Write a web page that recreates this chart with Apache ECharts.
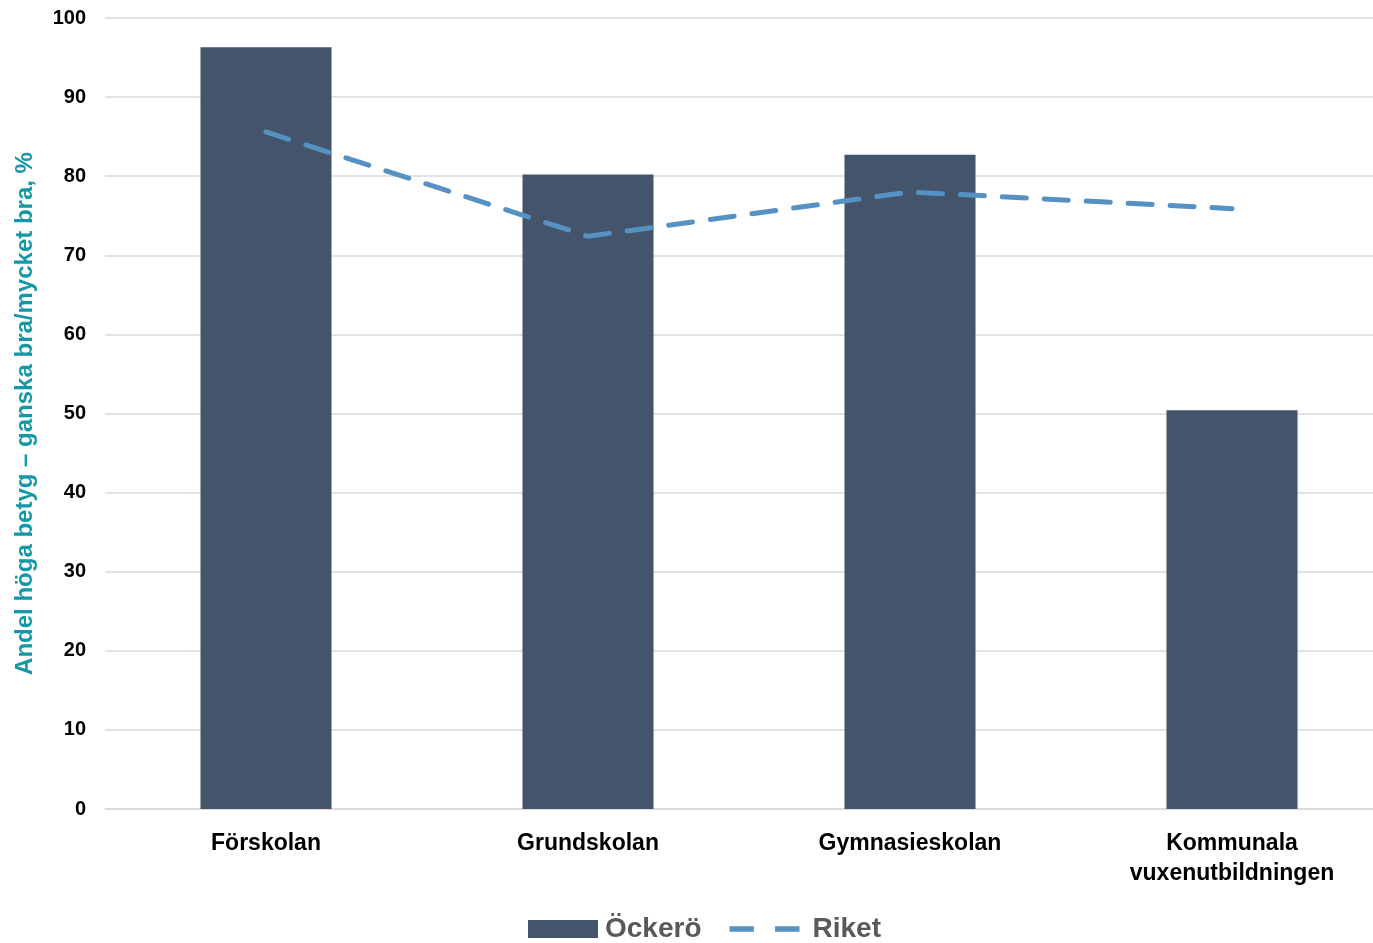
<!DOCTYPE html>
<html><head><meta charset="utf-8">
<script src="https://cdn.jsdelivr.net/npm/echarts@6/dist/echarts.min.js"></script>
<style>html,body{margin:0;padding:0;background:#fff}#c{width:1373px;height:943px}</style>
</head><body><div id="c"></div>
<script>
const categories = ['Förskolan', 'Grundskolan', 'Gymnasieskolan', 'Kommunala\nvuxenutbildningen'];
const ockero = [96.3, 80.2, 82.7, 50.4];
const riket = [85.6, 72.4, 78.0, 75.9];
const yTicks = [0, 10, 20, 30, 40, 50, 60, 70, 80, 90, 100];

const chart = echarts.init(document.getElementById('c'));
chart.setOption({
  animation: false,
  textStyle: { fontFamily: 'Liberation Sans, Arial, sans-serif' },
  grid: { left: 105, top: 18, right: -20, bottom: 134, containLabel: false, outerBoundsMode: 'none' },
  legend: {
    top: 915, left: 528, itemGap: 28, padding: 0,
    itemWidth: 70, itemHeight: 18,
    textStyle: { fontSize: 28, fontWeight: 'bold', color: '#595959', fontFamily: 'Liberation Sans, Arial, sans-serif', padding: [0, 0, 0, 2] },
    data: [
      { name: 'Öckerö', icon: 'rect' },
      { name: 'Riket', icon: 'path://M0,0 h23 v5 h-23z M43,0 h23 v5 h-23z', itemStyle: { color: '#5591c2' },
        textStyle: { padding: [0, 0, 0, 8] } }
    ]
  },
  xAxis: {
    type: 'category', data: categories,
    axisLine: { show: true, lineStyle: { color: '#d9d9d9', width: 1.5 } },
    axisTick: { show: false },
    axisLabel: { fontSize: 23, color: '#000', fontWeight: 'bold', margin: 20, lineHeight: 30, interval: 0 }
  },
  yAxis: {
    type: 'value', min: 0, max: 100, interval: 10,
    name: 'Andel höga betyg – ganska bra/mycket bra, %',
    nameLocation: 'middle', nameGap: 68,
    nameTextStyle: { fontSize: 24, fontWeight: 'bold', color: '#1598a6', fontFamily: 'Liberation Sans, Arial, sans-serif' },
    axisLine: { show: false }, axisTick: { show: false },
    axisLabel: { fontSize: 20, color: '#000', fontWeight: 'bold', margin: 19,
      formatter: v => yTicks.includes(v) ? String(v) : '' },
    splitLine: { lineStyle: { color: '#d9d9d9', width: 1.5 } }
  },
  series: [
    { name: 'Öckerö', type: 'bar', data: ockero, barWidth: '40.7%',
      itemStyle: { color: '#44546a' } },
    { name: 'Riket', type: 'line', data: riket, symbol: 'none',
      lineStyle: { color: '#5591c2', width: 5, type: [24, 18], cap: 'round' },
      itemStyle: { color: '#5591c2' } }
  ]
});
</script></body></html>
